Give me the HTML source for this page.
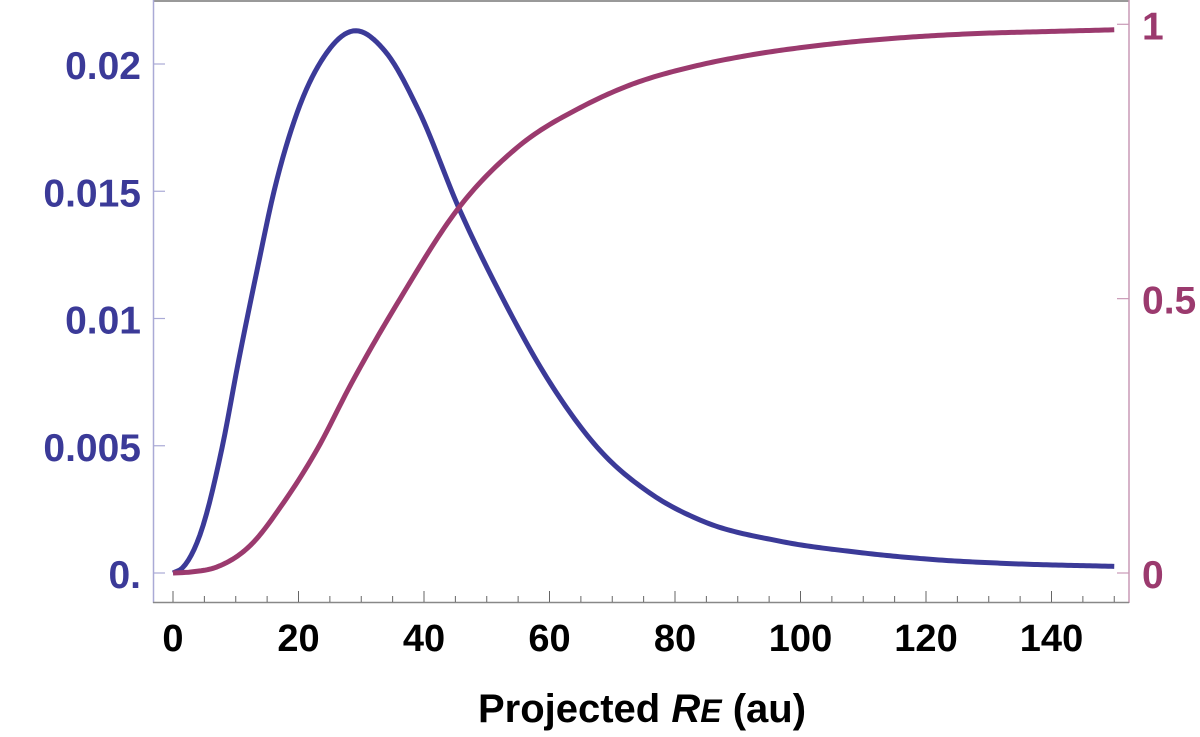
<!DOCTYPE html>
<html><head><meta charset="utf-8"><style>
html,body{margin:0;padding:0;background:#fff;}
svg{display:block;font-family:"Liberation Sans",Arial,sans-serif;font-weight:bold;}
</style></head><body>
<svg id="chart" width="1200" height="737" viewBox="0 0 1200 737">
<g id="axes"></g>
<g id="series"></g>
<text x="642" y="722" text-anchor="middle" font-size="40" fill="#000">Projected <tspan font-style="italic">R</tspan><tspan font-style="italic" font-size="32">E</tspan> (au)</text>
</svg>
<script>
const pdfX = [0,1.5,4.3,7.8,10.5,13.4,16.1,19.8,24.1,28.7,33.8,39.1,45.7,52.1,60.1,68.0,76.0,84.0,96.7,108.9,121.1,133.3,150];
const pdfY = [0,0.0002,0.0015,0.0049,0.0084,0.0119,0.0150,0.0181,0.0203,0.0213,0.0205,0.0182,0.01426,0.0110,0.00747,0.00483,0.00314,0.00208,0.00125,0.00082,0.00053,0.00037,0.00026];
const cdfX = [0,3,7,12.3,17.6,23,28.4,36.2,45.7,54.8,65.4,72.3,84.0,91,103.3,115.5,127.7,140,150];
const cdfY = [0,0.002,0.011,0.05,0.128,0.226,0.345,0.50,0.668,0.775,0.851,0.887,0.926,0.942,0.962,0.975,0.983,0.987,0.99];
const xTicks = [0,20,40,60,80,100,120,140];
const leftTicks = [0,0.005,0.01,0.015,0.02];
const leftLabels = ["0.","0.005","0.01","0.015","0.02"];
const rightTicks = [0,0.5,1];
const rightLabels = ["0","0.5","1"];

const X0=173, XS=6.275;
const sx = v => X0 + v*XS;
const syL = v => 573 - v*25450;
const syR = v => 573 - v*548.7;
const NS='http://www.w3.org/2000/svg';
const axes=document.getElementById('axes');
const series=document.getElementById('series');
function mk(tag, attrs, parent){const e=document.createElementNS(NS,tag);for(const k in attrs)e.setAttribute(k,attrs[k]);parent.appendChild(e);return e;}

let e;
e=mk('line',{x1:153,y1:1,x2:1129,y2:1,stroke:'#999',"stroke-width":2},axes);


e=mk('line',{x1:153.5,y1:0,x2:153.5,y2:603,stroke:'#aaaad6',"stroke-width":1.5},axes);


e=mk('line',{x1:1129,y1:0,x2:1129,y2:603,stroke:'#c99ab6',"stroke-width":1.5},axes);


e=mk('line',{x1:153,y1:602.5,x2:1129,y2:602.5,stroke:'#888',"stroke-width":1.5},axes);



for(let v=0; v<=150; v+=5){
  const major = v%20===0;
  e=mk('line',{x1:sx(v),y1:602,x2:sx(v),y2:major?591:596,stroke:'#666',"stroke-width":1},axes);
  
  
}
xTicks.forEach(v=>{
  e=mk('text',{x:sx(v),y:651,"text-anchor":"middle","font-size":38,fill:'#000'},axes);
  e.textContent=String(v);
  
  
});
leftTicks.forEach((v,i)=>{
  e=mk('line',{x1:153,y1:syL(v),x2:165,y2:syL(v),stroke:'#aaaad6',"stroke-width":1.2},axes);
  
  
  e=mk('text',{x:141,y:syL(v)+15,"text-anchor":"end","font-size":39,fill:'#3b3a98'},axes);
  e.textContent=leftLabels[i];
  
  
});
rightTicks.forEach((v,i)=>{
  e=mk('line',{x1:1117,y1:syR(v),x2:1129,y2:syR(v),stroke:'#c99ab6',"stroke-width":1.2},axes);
  
  
  e=mk('text',{x:1142,y:syR(v)+15,"text-anchor":"start","font-size":39,fill:'#9b3a6e'},axes);
  e.textContent=rightLabels[i];
  
  
});

function hermitePath(xs, ys, sy){
  const n=xs.length, m=new Array(n);
  const d=[];
  for(let i=0;i<n-1;i++) d.push((ys[i+1]-ys[i])/(xs[i+1]-xs[i]));
  m[0]=d[0]; m[n-1]=d[n-2];
  for(let i=1;i<n-1;i++){
    const h0=xs[i]-xs[i-1], h1=xs[i+1]-xs[i];
    m[i]=(d[i-1]*h1+d[i]*h0)/(h0+h1);
  }
  let path='';
  for(let i=0;i<n-1;i++){
    const h=xs[i+1]-xs[i];
    const steps=Math.max(4,Math.ceil(h*2));
    for(let s=(i===0?0:1);s<=steps;s++){
      const t=s/steps, t2=t*t, t3=t2*t;
      const y=(2*t3-3*t2+1)*ys[i]+(t3-2*t2+t)*h*m[i]+(-2*t3+3*t2)*ys[i+1]+(t3-t2)*h*m[i+1];
      const x=xs[i]+t*h;
      path+=(path?' L':'M')+sx(x).toFixed(2)+','+sy(y).toFixed(2);
    }
  }
  return path;
}
e=mk('path',{d:hermitePath(pdfX,pdfY,syL),fill:'none',stroke:'#3b3a98',"stroke-width":5,"stroke-linejoin":"round"},series);


e=mk('path',{d:hermitePath(cdfX,cdfY,syR),fill:'none',stroke:'#9b3a6e',"stroke-width":5,"stroke-linejoin":"round"},series);


</script>
</body></html>
